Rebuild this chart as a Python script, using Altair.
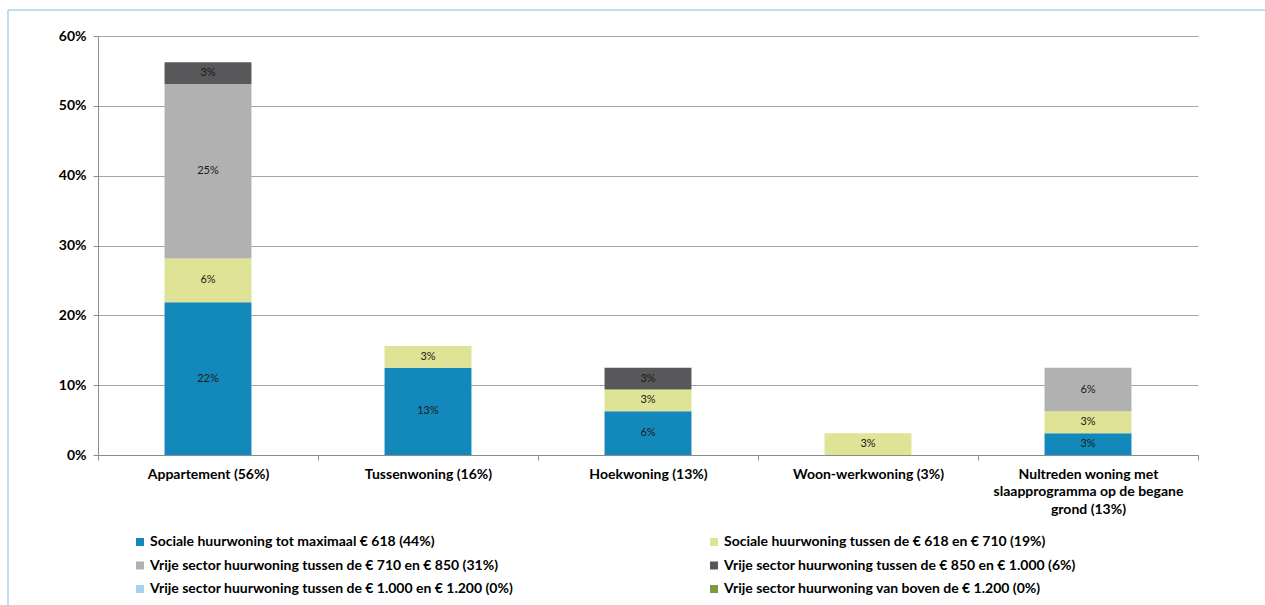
import altair as alt
import pandas as pd

# Woningtypes (x-as) en de regels waarin hun labels worden afgebroken
categories = [
    "Appartement (56%)",
    "Tussenwoning (16%)",
    "Hoekwoning (13%)",
    "Woon-werkwoning (3%)",
    "Nultreden woning met slaapprogramma op de begane grond (13%)",
]
category_lines = [
    ["Appartement (56%)"],
    ["Tussenwoning (16%)"],
    ["Hoekwoning (13%)"],
    ["Woon-werkwoning (3%)"],
    ["Nultreden woning met", "slaapprogramma op de begane", "grond (13%)"],
]

# Huursegmenten (legenda), van onder naar boven gestapeld
series = [
    "Sociale huurwoning tot maximaal € 618 (44%)",
    "Sociale huurwoning tussen de € 618 en € 710 (19%)",
    "Vrije sector huurwoning tussen de € 710 en € 850 (31%)",
    "Vrije sector huurwoning tussen de € 850 en € 1.000 (6%)",
    "Vrije sector huurwoning tussen de € 1.000 en € 1.200 (0%)",
    "Vrije sector huurwoning van boven de € 1.200 (0%)",
]
colors = ["#1389bb", "#dfe396", "#b1b1b2", "#58585a", "#9fd3ee", "#7d9b3a"]

# Aandeel per woningtype, per segment
sociaal_tot_618 = [0.21875, 0.125, 0.0625, 0.0, 0.03125]
sociaal_618_710 = [0.0625, 0.03125, 0.03125, 0.03125, 0.03125]
vrij_710_850 = [0.25, 0.0, 0.0, 0.0, 0.0625]
vrij_850_1000 = [0.03125, 0.0, 0.03125, 0.0, 0.0]
vrij_1000_1200 = [0.0, 0.0, 0.0, 0.0, 0.0]
vrij_boven_1200 = [0.0, 0.0, 0.0, 0.0, 0.0]

values = [sociaal_tot_618, sociaal_618_710, vrij_710_850,
          vrij_850_1000, vrij_1000_1200, vrij_boven_1200]

rows = []
for si, (name, vals) in enumerate(zip(series, values)):
    for cat, v in zip(categories, vals):
        rows.append({"woningtype": cat, "segment": name, "volgorde": si, "aandeel": v})
df = pd.DataFrame(rows)

FONT = "Lato"
FS = 14
W, H = 1100, 419
LEFT, TOP = 98, 36
TOTAL_W, TOTAL_H = 1265, 605

label_map = "{" + ", ".join(
    f"'{c}': [" + ", ".join(f"'{l}'" for l in lines) + "]"
    for c, lines in zip(categories, category_lines)
) + "}"

x_enc = alt.X(
    "woningtype:N",
    sort=categories,
    scale=alt.Scale(paddingInner=0, paddingOuter=0),
    axis=alt.Axis(
        title=None,
        labelAngle=0,
        labelExpr=f"{label_map}[datum.value]",
        labelLineHeight=17.5,
        labelFont=FONT,
        labelFontSize=FS,
        labelFontWeight="bold",
        labelColor="#000000",
        labelPadding=7,
        labelLimit=300,
        tickBand="extent",
        tickSize=5,
        tickColor="#8c8c8c",
        domainColor="#8c8c8c",
        grid=False,
    ),
)

base = (
    alt.Chart(df)
    .transform_filter("datum.aandeel > 0")
    .transform_stack(
        stack="aandeel",
        groupby=["woningtype"],
        as_=["y0", "y1"],
        sort=[alt.SortField("volgorde", order="ascending")],
    )
    .transform_calculate(midden="(datum.y0 + datum.y1) / 2")
)

bars = base.mark_bar(width=alt.RelativeBandSize(0.395)).encode(
    x=x_enc,
    y=alt.Y(
        "y0:Q",
        scale=alt.Scale(domain=[0, 0.6], nice=False),
        axis=alt.Axis(
            title=None,
            format=".0%",
            values=[0, 0.1, 0.2, 0.3, 0.4, 0.5, 0.6],
            labelFont=FONT,
            labelFontSize=FS,
            labelFontWeight="bold",
            labelColor="#000000",
            labelPadding=7,
            tickSize=5,
            tickColor="#8c8c8c",
            domainColor="#8c8c8c",
            grid=True,
            gridColor="#a6a6a6",
        ),
    ),
    y2="y1:Q",
    color=alt.Color(
        "segment:N",
        scale=alt.Scale(domain=series, range=colors),
        legend=alt.Legend(
            title=None,
            orient="none",
            direction="horizontal",
            legendX=35,
            legendY=499,
            columns=2,
            columnPadding=193,
            rowPadding=9.5,
            symbolType="square",
            symbolSize=64,
            symbolStrokeWidth=0,
            symbolOpacity=1,
            labelFont=FONT,
            labelFontSize=FS,
            labelFontWeight="bold",
            labelColor="#000000",
            labelOffset=3,
            labelLimit=500,
        ),
    ),
)

labels = base.mark_text(font=FONT, fontSize=11, color="#1a1a1a").encode(
    x=alt.X("woningtype:N", sort=categories),
    y=alt.Y("midden:Q"),
    text=alt.Text("aandeel:Q", format=".0%"),
)

# Lichtblauwe kaderlijnen rond de grafiek
frame_data = alt.Data(values=[{"k": 1}])
frame_top = alt.Chart(frame_data).mark_rule(color="#a9d3ea", strokeWidth=1.5).encode(
    x=alt.value(8 - LEFT), x2=alt.value(TOTAL_W - LEFT), y=alt.value(10 - TOP)
)
frame_left = alt.Chart(frame_data).mark_rule(color="#a9d3ea", strokeWidth=1.5).encode(
    x=alt.value(8 - LEFT), y=alt.value(10 - TOP), y2=alt.value(TOTAL_H - TOP)
)

chart = (
    alt.layer(bars, labels, frame_top, frame_left)
    .properties(
        width=W,
        height=H,
        autosize=alt.AutoSizeParams(type="none"),
        padding={"left": LEFT, "top": TOP,
                 "right": TOTAL_W - LEFT - W, "bottom": TOTAL_H - TOP - H},
        background="white",
    )
    .configure_view(stroke=None)
)

chart.save("out.html", embed_options={"renderer": "svg", "actions": False})
